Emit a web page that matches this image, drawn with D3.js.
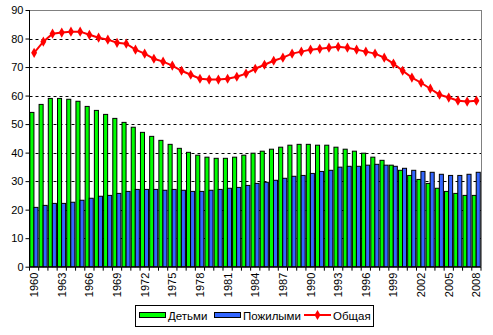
<!DOCTYPE html>
<html><head><meta charset="utf-8">
<script src="https://cdn.jsdelivr.net/npm/d3@7"></script>
<style>body{margin:0;background:#fff;}svg{display:block;font-family:"Liberation Sans",Arial,sans-serif;}</style>
</head><body><svg id="c" width="493" height="335"></svg>
<script>
const years = d3.range(1960, 2009);
const children = [54.1,56.9,59.0,59.0,58.7,58.0,56.2,54.8,53.4,52.0,50.6,48.9,47.1,45.7,44.3,42.9,41.5,40.1,39.1,38.4,38.0,38.0,38.4,39.1,39.8,40.5,41.2,41.9,42.6,42.9,42.9,42.6,42.6,41.9,41.2,40.5,39.8,38.4,37.3,35.6,33.8,32.0,30.6,29.2,27.5,26.4,25.7,25.0,25.0];
const elderly = [20.8,21.5,22.2,22.2,22.6,23.3,24.0,24.7,25.0,25.7,26.4,27.1,27.1,27.1,26.8,27.1,26.8,26.4,26.4,26.8,27.1,27.5,27.8,28.5,29.2,29.6,30.3,31.0,31.7,32.0,32.7,33.4,33.8,34.9,35.2,35.2,35.6,35.9,35.6,35.2,34.5,33.8,33.4,33.1,32.4,32.0,32.0,32.4,33.1];
const total = [75.0,78.9,81.7,82.1,82.4,82.4,81.3,80.3,79.6,78.5,78.2,76.1,74.7,72.9,71.9,70.5,68.7,67.3,65.9,65.6,65.6,65.9,66.6,67.7,69.4,70.8,72.2,73.3,74.7,75.4,76.1,76.4,76.8,77.1,76.8,76.1,75.4,74.7,73.3,71.2,68.7,66.3,64.5,62.4,60.3,59.3,58.2,57.9,58.2];
const yTicks = [0,10,20,30,40,50,60,70,80,90];
const xLabels = years.filter(y => (y - 1960) % 3 === 0);
const seriesNames = ["Детьми","Пожилыми","Общая"];
const colors = {green:"#00FF00", blue:"#3366FF", red:"#FF0000"};

const svg = d3.select("#c");
const L = 29.5, R = 481, T = 10, B = 266.7;
const x = d3.scaleBand().domain(years).range([L, R]).padding(0);
const y = d3.scaleLinear().domain([0, 90]).range([B, T]);
const bw = x.bandwidth();

// frame top/right
svg.append("line").attr("x1", L).attr("x2", R).attr("y1", T+0.5).attr("y2", T+0.5).attr("stroke", "#808080");
svg.append("line").attr("x1", R+0.5).attr("x2", R+0.5).attr("y1", T).attr("y2", B).attr("stroke", "#808080");

// gridlines
svg.append("g").selectAll("line").data(yTicks.filter(t => t > 0 && t < 90)).join("line")
  .attr("x1", L).attr("x2", R)
  .attr("y1", d => Math.round(y(d)) + 0.5).attr("y2", d => Math.round(y(d)) + 0.5)
  .attr("stroke", "#000").attr("stroke-dasharray", "3,3");

// bars
const g = svg.append("g");
g.selectAll(".gb").data(years).join("rect")
  .attr("x", (d) => x(d) + bw*0.04).attr("width", bw*0.44)
  .attr("y", (d,i) => y(children[i])).attr("height", (d,i) => B - y(children[i]))
  .attr("fill", colors.green).attr("stroke", "#000").attr("stroke-width", 1);
g.selectAll(".bb").data(years).join("rect")
  .attr("x", (d) => x(d) + bw*0.48).attr("width", bw*0.44)
  .attr("y", (d,i) => y(elderly[i])).attr("height", (d,i) => B - y(elderly[i]))
  .attr("fill", colors.blue).attr("stroke", "#000").attr("stroke-width", 1);

// axes
const yAxis = d3.axisLeft(y).tickValues(yTicks).tickSize(4).tickFormat(d3.format("d"));
const ya = svg.append("g").attr("transform", `translate(${L},0)`).call(yAxis);
ya.select(".domain").attr("stroke", "#000").attr("d", `M0,${T}V${B}`);
ya.selectAll("text").attr("font-size", 11).attr("fill", "#000").attr("x", -6);

const xa = svg.append("g").attr("transform", `translate(0,${B})`);
xa.append("line").attr("x1", L).attr("x2", R).attr("y1", 0.5).attr("y2", 0.5).attr("stroke", "#000");
xa.selectAll(".tk").data(years.concat([2009])).join("line")
  .attr("x1", d => (d === 2009 ? R : x(d))).attr("x2", d => (d === 2009 ? R : x(d)))
  .attr("y1", 0).attr("y2", 4).attr("stroke", "#000");
xa.selectAll("text").data(xLabels).join("text")
  .attr("transform", d => `translate(${x(d) + bw/2 + 4},6) rotate(-90)`)
  .attr("text-anchor", "end").attr("font-size", 11).attr("fill", "#000").text(d => d);

// line
const line = d3.line().x((d,i) => x(years[i]) + bw/2).y(d => y(d));
svg.append("path").datum(total).attr("d", line).attr("fill", "none")
  .attr("stroke", colors.red).attr("stroke-width", 2);
const sym = d3.symbol().type(d3.symbolDiamond).size(30);
svg.append("g").selectAll("path").data(total).join("path")
  .attr("transform", (d,i) => `translate(${x(years[i]) + bw/2},${y(d)})`)
  .attr("d", sym).attr("fill", colors.red);

// legend
const lg = svg.append("g");
lg.append("rect").attr("x", 135.5).attr("y", 305.5).attr("width", 238).attr("height", 21)
  .attr("fill", "#fff").attr("stroke", "#000");
lg.append("rect").attr("x", 139.5).attr("y", 312.5).attr("width", 26).attr("height", 5)
  .attr("fill", colors.green).attr("stroke", "#000");
lg.append("text").attr("x", 168).attr("y", 320).attr("font-size", 11.5).text(seriesNames[0]);
lg.append("rect").attr("x", 214.5).attr("y", 312.5).attr("width", 26).attr("height", 5)
  .attr("fill", colors.blue).attr("stroke", "#000");
lg.append("text").attr("x", 243).attr("y", 320).attr("font-size", 11.5).text(seriesNames[1]);
lg.append("line").attr("x1", 304).attr("x2", 331).attr("y1", 315).attr("y2", 315)
  .attr("stroke", colors.red).attr("stroke-width", 2);
lg.append("path").attr("transform", "translate(317.5,315)").attr("d", sym).attr("fill", colors.red);
lg.append("text").attr("x", 333).attr("y", 320).attr("font-size", 11.5).text(seriesNames[2]);
</script></body></html>
